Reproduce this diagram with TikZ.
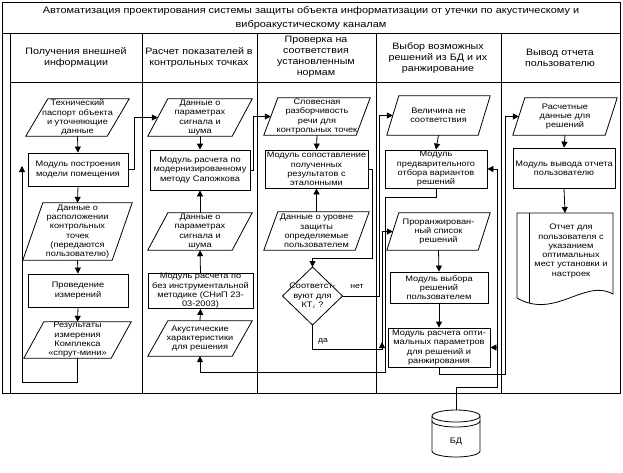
\documentclass[tikz,border=0pt]{standalone}
\usepackage{fontspec}
\setmainfont{Liberation Sans}[FakeStretch=1.15]
\usetikzlibrary{arrows.meta,calc}
\newcommand{\dataframe}[2]{\draw[ln] ($(#1.north west)+(#2,0)$) -- (#1.north east) -- ($(#1.south east)+(-#2,0)$) -- (#1.south west) -- cycle;}
\begin{document}
\begin{tikzpicture}[x=1pt,y=-1pt,
  ln/.style={line width=0.8pt},
  frame/.style={line width=0.9pt},
  arr/.style={-{Triangle[length=6pt,width=6pt]}},
  txt/.style={font=\fontsize{8}{9.3}\selectfont, align=center, inner sep=0pt},
  proc/.style={draw, ln, txt},
  dat/.style={txt},
  hdr/.style={font=\fontsize{9.3}{11}\selectfont, align=center, inner sep=0pt},
  lbl/.style={font=\fontsize{7.5}{9}\selectfont, inner sep=0pt}]
\useasboundingbox (0,0) rectangle (623,472);
\fill[white] (0,0) rectangle (623,472);
% frame
\draw[frame] (2,2) rectangle (620,393);
\draw[frame] (2,33) -- (620,33);
\draw[frame] (10,33) -- (10,393);
\draw[frame] (10,82) -- (620,82);
\foreach \x in {142,257,376,501} \draw[frame] (\x,33) -- (\x,393);
\node[font=\fontsize{9.5}{14}\selectfont, align=center, inner sep=0pt] (title) at (311,17.5) {Автоматизация проектирования системы защиты объекта информатизации от утечки по акустическому и\\виброакустическому каналам};
\node[hdr] (h1) at (76,58) {Получения внешней\\информации};
\node[hdr] (h2) at (199,58) {Расчет показателей в\\контрольных точках};
\node[hdr] (h3) at (316,57) {Проверка на\\соответствия\\установленным\\нормам};
\node[hdr] (h4) at (438,58) {Выбор возможных\\решений из БД и их\\ранжирование};
\node[hdr] (h5) at (560,58) {Вывод отчета\\пользователю};
% lane 1
\node[dat, minimum width=103, minimum height=37] (d11) at (77.5,117.5) {Технический\\паспорт объекта\\и уточняющие\\данные};
\dataframe{d11}{22}
\node[proc, minimum width=100, minimum height=33] (m11) at (78,169.5) {Модуль построения\\модели помещения};
\node[dat, minimum width=109, minimum height=57] (d12) at (77.5,231.5) {Данные о\\расположении\\контрольных\\точек\\(передаются\\пользователю)};
\dataframe{d12}{20}
\node[proc, minimum width=100, minimum height=33] (m12) at (78,290.5) {Проведение\\измерений};
\node[dat, minimum width=107, minimum height=36] (d13) at (77.5,340) {Результаты\\измерения\\Комплекса\\«спрут-мини»};
\dataframe{d13}{20}
% lane 2
\node[dat, minimum width=104, minimum height=37] (d21) at (200,117.5) {Данные о\\параметрах\\сигнала и\\шума};
\dataframe{d21}{20}
\node[proc, minimum width=100, minimum height=40] (m21) at (200,170) {Модуль расчета по\\модернизированному\\методу Сапожкова};
\node[dat, minimum width=104, minimum height=37] (d22) at (200,231.5) {Данные о\\параметрах\\сигнала и\\шума};
\dataframe{d22}{20}
\node[proc, minimum width=105, minimum height=34] (m22) at (200.5,291) {Модуль расчета по\\без инструментальной\\методике (СНиП 23-\\03-2003)};
\node[dat, minimum width=104, minimum height=35] (d23) at (200,338.5) {Акустические\\характеристики\\для решения};
\dataframe{d23}{20}
% lane 3
\node[dat, minimum width=106, minimum height=37] (d31) at (317,116.5) {Словесная\\разборчивость\\речи для\\контрольных точек};
\dataframe{d31}{14}
\node[proc, minimum width=103, minimum height=38] (m31) at (316.5,169) {Модуль сопоставление\\полученных\\результатов с\\эталонными};
\node[dat, minimum width=105, minimum height=38] (d32) at (316.5,231) {Данные о уровне\\защиты\\определяемые\\пользователем};
\dataframe{d32}{14}
\coordinate (diaN) at (312.5,267);
\coordinate (diaS) at (312.5,325);
\coordinate (diaE) at (342.5,296);
\coordinate (diaW) at (282.5,296);
\draw[ln] (diaN) -- (diaE) -- (diaS) -- (diaW) -- cycle;
\node[txt] (dia) at (312.5,296) {Соответст-\\вуют для\\КТ$_i$ ?};
% lane 4
\node[dat, minimum width=103, minimum height=39] (d41) at (438.5,115.5) {Величина не\\соответствия};
\dataframe{d41}{12}
\node[proc, minimum width=102, minimum height=38] (m41) at (436,169) {Модуль\\предварительного\\отбора вариантов\\решений};
\node[dat, minimum width=103, minimum height=37] (d42) at (438.5,231.5) {Проранжирован-\\ный список\\решений};
\dataframe{d42}{12}
\node[proc, minimum width=98, minimum height=31] (m42) at (439,287.5) {Модуль выбора\\решений\\пользователем};
\node[proc, minimum width=102, minimum height=39] (m43) at (439,347.5) {Модуль расчета опти-\\мальных параметров\\для решений и\\ранжирования};
% lane 5
\node[dat, minimum width=104, minimum height=37] (d51) at (565,116.5) {Расчетные\\данные для\\решений};
\dataframe{d51}{12}
\node[proc, minimum width=102, minimum height=40] (m51) at (564,168) {Модуль вывода отчета\\пользователю};
\coordinate (docN) at (565,213);
\draw[ln] (517,213) -- (613,213) -- (613,294) .. controls (585,278) and (555,320) .. (517,298) -- cycle;
\draw[ln] (529,213) -- (529,302.5);
\node[txt] (doc) at (571,251) {Отчет для\\пользователя с\\указанием\\оптимальных\\мест установки и\\настроек};
% database
\coordinate (bdtop) at (456,410);
\draw[ln] (432,416) -- (432,451) arc[start angle=180, end angle=360, x radius=24pt, y radius=6pt] -- (480,416);
\draw[ln] (456,416) ellipse [x radius=24pt, y radius=6pt];
\draw[ln] (432,421) arc[start angle=180, end angle=360, x radius=24pt, y radius=6pt];
\node[txt] (bd) at (456,442) {БД};
% connectors lane 1
\draw[ln,arr] (d11.south) -- (m11.north);
\draw[ln,arr] (m11.south) -- (d12.north);
\draw[ln,arr] (d12.south) -- (m12.north);
\draw[ln,arr] (m12.south) -- (d13.north);
\draw[ln,arr] (d13.south) -- (77.5,382) -| (22,166);
\draw[ln,arr] (m11.east) -- (134,169.5) |- ($(d21.west)+(10,0)$);
% lane 2
\draw[ln,arr] (d21.south) -- (m21.north);
\draw[ln,arr] (d22.north) -- (m21.south);
\draw[ln,arr] (m22.north) -- (d22.south);
\draw[ln,arr] (d23.north) -- (m22.south);
\draw[ln,arr] (m21.east) -- (253,170) |- ($(d31.west)+(7,0)$);
% lane 3
\draw[ln,arr] (d31.south) -- (m31.north);
\draw[ln,arr] (d32.north) -- (m31.south);
\draw[ln,arr] (m31.east) -- (372,169) |- (312.5,258) -- (diaN);
\draw[ln,arr] (diaE) -- (379,296) |- ($(d41.west)+(6,0)$);
\node[lbl] (no) at (357,287) {нет};
\draw[ln,arr] (diaS) |- (382,349) |- ($(d42.west)+(6,0)$);
\draw[ln,arr] (382,349) -- (382,342);
\node[lbl] (yes) at (323,341) {да};
% lane 4
\draw[ln,arr] (d41.south) -- (m41.north);
\draw[ln,arr] (m41.south) |- (385,197) -- (385,372) -| (d23.south);
\draw[ln,arr] (d42.south) -- (m42.north);
\draw[ln,arr] (m42.south) -- (m43.north);
\draw[ln,arr] (m43.south) |- (505,374) |- ($(d51.west)+(6,0)$);
\draw[ln,arr] (bdtop) |- (497,387) |- (m41.east);
\coordinate (j1) at (497,347.5);
\draw[ln,arr] (j1) -- (m43.east);
% lane 5
\draw[ln,arr] (d51.south) -- (m51.north);
\draw[ln,arr] (m51.south) -- (docN);
\end{tikzpicture}
\end{document}
